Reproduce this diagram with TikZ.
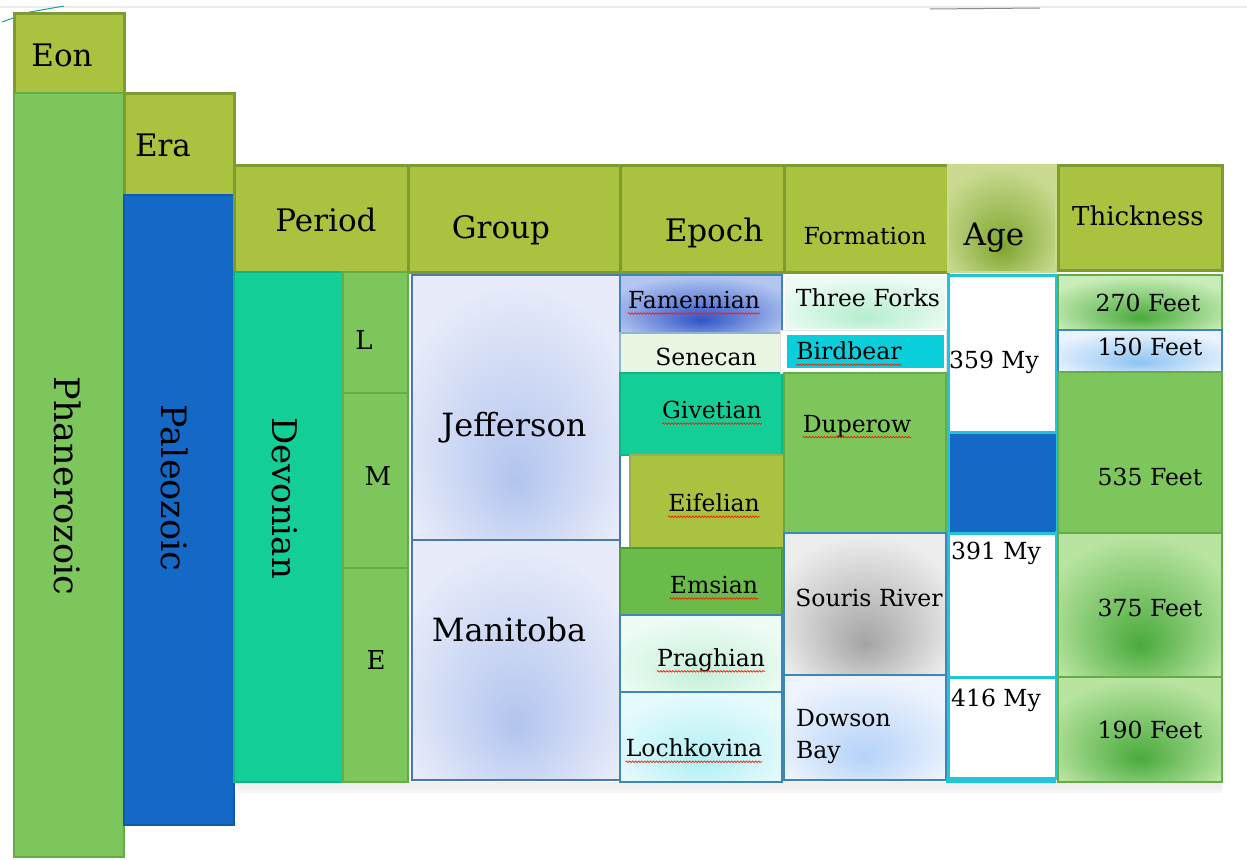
\documentclass[tikz,border=0pt]{standalone}
\usepackage{fontspec}
\setmainfont{DejaVu Serif}
\usetikzlibrary{decorations.pathmorphing}
\definecolor{hdr}{HTML}{A9C23F}
\definecolor{hdrline}{HTML}{7D9B30}
\definecolor{lgreen}{HTML}{7DC65B}
\definecolor{lgreenline}{HTML}{62AD47}
\definecolor{emgreen}{HTML}{6BBB4A}
\definecolor{emline}{HTML}{4E9B38}
\definecolor{teal}{HTML}{13CF97}
\definecolor{tealline}{HTML}{10B585}
\definecolor{pblue}{HTML}{1469C6}
\definecolor{pblueline}{HTML}{0E5AAE}
\definecolor{senecan}{HTML}{EAF5E2}
\definecolor{bcyan}{HTML}{0ACFDB}
\definecolor{agecyan}{HTML}{22C4D8}
\definecolor{cellline}{HTML}{3F86B8}
\definecolor{grpline}{HTML}{4A78B0}
\definecolor{gin}{HTML}{FFFFFF}
\definecolor{gout}{HTML}{FFFFFF}
\pgfdeclareradialshading[gin,gout]{lowglow}{\pgfpoint{0bp}{-14bp}}{color(0bp)=(gin); color(30bp)=(gout); color(50bp)=(gout)}
\newcommand\glowbox[7]{\begin{scope}\definecolor{gin}{HTML}{#1}\definecolor{gout}{HTML}{#2}%
\path[shade,shading=lowglow,draw=#7,line width=1.3] (#3,#4) rectangle (#5,#6);\end{scope}}
\begin{document}
\begin{tikzpicture}[x=1pt,y=-1pt,
  hdrbox/.style={fill=hdr,draw=hdrline,line width=3},
  gbox/.style={fill=lgreen,draw=lgreenline,line width=2},
  txt/.style={inner sep=0,font=\fontsize{23.5}{27}\selectfont},
  ltxt/.style={inner sep=0,font=\fontsize{26}{30}\selectfont},
  htxt/.style={inner sep=0,font=\fontsize{31}{35}\selectfont},
  gtxt/.style={inner sep=0,font=\fontsize{32}{36}\selectfont},
  btxt/.style={inner sep=0,font=\fontsize{35}{38}\selectfont,rotate=-90},
  squig/.style={draw=red!80!orange,line width=0.7,decorate,decoration={snake,segment length=3pt,amplitude=0.8pt}}]
\useasboundingbox (0,0) rectangle (1247,859);
\fill[white] (0,0) rectangle (1247,859);
% faint top marks
\draw[color=black!8,line width=1.5] (0,7) -- (1247,7);
\draw[color=black!45,line width=1] (930,9) -- (1040,8);
\draw[color=agecyan!80!black,line width=1] (2,22) -- (30,12) -- (64,6);
% shadows
\fill[black!6] (238,782) rectangle (1222,789);
\fill[black!4] (238,789) rectangle (1222,793);
% headers
\path[hdrbox] (14,14) rectangle (124,93);
\node[htxt] (eon) at (62,55) {Eon};
\path[gbox] (14,93) rectangle (124,857);
\node[btxt] (phan) at (68,486) {Phanerozoic};
\path[hdrbox] (124,93) rectangle (234,195);
\node[htxt] (era) at (163,145) {Era};
\path[fill=pblue,draw=pblueline,line width=2] (124,195) rectangle (234,825);
\node[btxt] (paleo) at (175,488) {Paleozoic};
\path[hdrbox] (234,165) rectangle (408,272);
\node[htxt] (period) at (326,220) {Period};
\path[hdrbox] (408,165) rectangle (620,272);
\node[htxt] (group) at (501,230) {Group};
\path[hdrbox] (620,165) rectangle (784,272);
\node[htxt] (epoch) at (714,233) {Epoch};
\path[hdrbox] (784,165) rectangle (948,272);
\node[txt] (formation) at (865,236) {Formation};
\glowbox{7EA52E}{C9DA90}{948}{165}{1056}{272}{hdr!60}
\node[htxt] (age) at (994,238) {Age};
\path[hdrbox] (1058,165) rectangle (1222,270);
\node[inner sep=0,font=\fontsize{26}{30}\selectfont] (thick) at (1138,216) {Thickness};
% period column
\path[fill=teal,draw=tealline,line width=2] (234,272) rectangle (343,782);
\node[btxt,font=\fontsize{34}{38}\selectfont] (devon) at (285,498) {Devonian};
\path[gbox] (343,272) rectangle (408,393);
\node[ltxt] (L) at (364,340) {L};
\path[gbox] (343,393) rectangle (408,568);
\node[ltxt] (M) at (378,476) {M};
\path[gbox] (343,568) rectangle (408,782);
\node[ltxt] (E) at (376,660) {E};
% group column
\glowbox{B2C4EE}{E8ECFA}{412}{275}{620}{540}{grpline}
\node[gtxt] (jeff) at (514,428) {Jefferson};
\glowbox{B2C4EE}{E8ECFA}{412}{540}{620}{780}{grpline}
\node[gtxt] (mani) at (509,630) {Manitoba};
% epoch column
\glowbox{2F55C8}{B4C6F0}{620}{275}{782}{333}{cellline}
\node[txt] (famen) at (694,300) {Famennian};
\path[fill=senecan,draw=cellline!60,line width=1.2] (620,333) rectangle (782,373);
\node[txt] (senec) at (706,357) {Senecan};
\path[fill=teal,draw=tealline,line width=2] (620,373) rectangle (782,455);
\node[txt] (givet) at (712,410) {Givetian};
\path[fill=hdr,draw=hdrline!80,line width=2] (630,455) rectangle (784,548);
\node[txt] (eifel) at (714,503) {Eifelian};
\path[fill=emgreen,draw=emline,line width=2] (620,548) rectangle (782,615);
\node[txt] (emsian) at (714,585) {Emsian};
\glowbox{C4F0DA}{EEFCF4}{620}{615}{782}{692}{cellline}
\node[txt] (pragh) at (711,660) {Praghian};
\glowbox{B0F0F4}{E6FAFC}{620}{692}{782}{782}{cellline}
\node[txt] (lochk) at (694,748) {Lochkovina};
% formation column
\glowbox{B4EECE}{EEFBF5}{784}{275}{946}{330}{white}
\node[txt] (three) at (868,298) {Three Forks};
\path[fill=white,draw=black!12,line width=1] (780,330) rectangle (946,373);
\path[fill=bcyan] (787,335) rectangle (944,368);
\node[txt] (bird) at (849,351) {Birdbear};
\path[gbox] (784,373) rectangle (946,533);
\node[txt] (dupe) at (857,426) {Duperow};
\glowbox{A4A4A4}{EDEDED}{784}{533}{946}{675}{cellline}
\node[txt] (souris) at (869,598) {Souris River};
\glowbox{B4D2F8}{EEF4FD}{784}{675}{946}{780}{cellline}
\node[inner sep=0,font=\fontsize{23.5}{32}\selectfont,anchor=west,align=left] (dowson) at (796,737) {Dowson\\Bay};
% age column
\path[fill=white,draw=agecyan,line width=3] (948,275) rectangle (1056,432);
\path[fill=pblue,draw=agecyan,line width=3] (948,432) rectangle (1056,533);
\path[fill=pblue] (950,434) rectangle (1056,531);
\path[fill=white,draw=agecyan,line width=3] (948,533) rectangle (1056,677);
\path[fill=white,draw=agecyan,line width=3] (948,677) rectangle (1056,778);
\draw[agecyan,line width=5] (946,780) -- (1056,780);
\node[txt] (a359) at (994,362) {359 My};
\node[txt] (a391) at (996,553) {391 My};
\node[txt] (a416) at (996,700) {416 My};
% thickness column
\glowbox{4AAA3C}{C8EDB8}{1058}{275}{1222}{330}{lgreenline}
\node[txt] (t270) at (1148,303) {270 Feet};
\glowbox{8EC4F4}{EAF3FD}{1058}{330}{1222}{372}{cellline}
\node[txt] (t150) at (1150,347) {150 Feet};
\path[gbox] (1058,372) rectangle (1222,533);
\node[txt] (t535) at (1150,477) {535 Feet};
\glowbox{4AAA3C}{B8E4A0}{1058}{533}{1222}{677}{lgreenline}
\node[txt] (t375) at (1150,608) {375 Feet};
\glowbox{4AAA3C}{B8E4A0}{1058}{677}{1222}{782}{lgreenline}
\node[txt] (t190) at (1150,730) {190 Feet};
% spell-check underlines
\foreach \w in {famen,givet,eifel,emsian,pragh,lochk,bird,dupe}
  \draw[squig] ([yshift=-5pt]\w.base west) -- ([yshift=-5pt]\w.base east);
\end{tikzpicture}
\end{document}
